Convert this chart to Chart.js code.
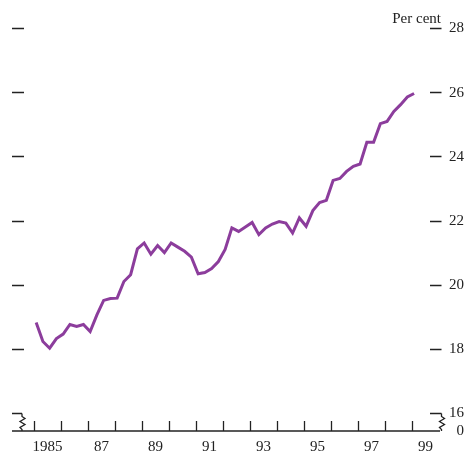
<!DOCTYPE html>
<html>
<head>
<meta charset="utf-8">
<script src="https://cdn.jsdelivr.net/npm/chart.js@4/dist/chart.umd.min.js"></script>
<style>
  body { margin: 0; background: #fff; }
  canvas { display: block; }
</style>
</head>
<body>
<canvas id="chart" width="467" height="452"></canvas>
<script>
// quarterly, 1985 Q1 .. 1999 Q1
const firstYear = 1985;
const shareValues = [
    18.82, 18.23, 18.02, 18.32, 18.46, 18.76, 18.70, 18.76,
    18.54, 19.06, 19.51, 19.57, 19.58, 20.10, 20.31, 21.12,
    21.30, 20.95, 21.22, 21.00, 21.30, 21.17, 21.04, 20.86,
    20.34, 20.38, 20.50, 20.72, 21.10, 21.77, 21.66, 21.80,
    21.94, 21.56, 21.77, 21.89, 21.97, 21.92, 21.61, 22.08,
    21.82, 22.31, 22.56, 22.63, 23.25, 23.31, 23.53, 23.69,
    23.76, 24.44, 24.44, 25.02, 25.09, 25.40, 25.61, 25.85,
    25.96
];
const yearTicks = [1985, 1986, 1987, 1988, 1989, 1990, 1991, 1992, 1993, 1994, 1995, 1996, 1997, 1998, 1999];
const yearLabels = ['1985', '87', '89', '91', '93', '95', '97', '99'];
const yearLabelYears = [1985, 1987, 1989, 1991, 1993, 1995, 1997, 1999];
const yTicks = [16, 18, 20, 22, 24, 26, 28];

const points = shareValues.map((v, i) => ({
    x: firstYear + Math.floor(i / 4) + (i % 4) / 4 + 0.08,
    y: v
}));

const FONT = '15px "Liberation Serif", "Times New Roman", serif';
const INK = '#222';

// axes are drawn by hand, positions come from chart scales
const axesPlugin = {
    id: 'rbaAxes',
    afterDraw: (chart) => {
        const ctx = chart.ctx;
        const xs = chart.scales.x;
        const ys = chart.scales.y;
        const base = ys.bottom;
        const left = xs.left;
        const right = xs.right;

        ctx.save();
        ctx.strokeStyle = INK;
        ctx.fillStyle = INK;
        ctx.lineWidth = 1.3;

        // bottom axis line
        ctx.beginPath();
        ctx.moveTo(left, base);
        ctx.lineTo(right, base);
        ctx.stroke();

        // year ticks, pointing up
        yearTicks.forEach((yr) => {
            const px = Math.round(xs.getPixelForValue(yr)) + 0.5;
            ctx.beginPath();
            ctx.moveTo(px, base - 10);
            ctx.lineTo(px, base);
            ctx.stroke();
        });

        // y ticks both sides
        yTicks.forEach((v) => {
            const py = Math.round(ys.getPixelForValue(v)) + 0.5;
            ctx.beginPath();
            if (v === yTicks[0]) {
                ctx.moveTo(left, py);
                ctx.lineTo(left + 10, py);
            } else {
                ctx.moveTo(left, py);
                ctx.lineTo(left + 12, py);
            }
            ctx.moveTo(right - 10, py);
            ctx.lineTo(right + 1.5, py);
            ctx.stroke();
        });

        // axis breaks
        const top16 = Math.round(ys.getPixelForValue(yTicks[0])) + 0.5;
        const zig = (bx) => {
            ctx.beginPath();
            ctx.moveTo(bx, top16);
            ctx.lineTo(bx, top16 + 3);
            ctx.lineTo(bx + 3, top16 + 5);
            ctx.lineTo(bx - 2, top16 + 8);
            ctx.lineTo(bx + 3, top16 + 11);
            ctx.lineTo(bx - 2, top16 + 14);
            ctx.lineTo(bx, top16 + 16);
            ctx.lineTo(bx, base);
            ctx.stroke();
        };
        zig(left + 10);
        zig(right + 1.5);

        // tick labels
        ctx.font = FONT;
        ctx.textAlign = 'right';
        ctx.textBaseline = 'middle';
        yTicks.forEach((v) => {
            ctx.fillText(String(v), 464, ys.getPixelForValue(v) + 0.5);
        });
        ctx.fillText('0', 464, base);
        ctx.fillText('Per cent', right + 1, 19);

        ctx.textAlign = 'center';
        ctx.textBaseline = 'alphabetic';
        yearLabels.forEach((lab, i) => {
            ctx.fillText(lab, xs.getPixelForValue(yearLabelYears[i] + 0.5), 451);
        });
        ctx.restore();
    }
};

new Chart(document.getElementById('chart').getContext('2d'), {
    type: 'line',
    data: {
        datasets: [{
            data: points,
            borderColor: '#8c3d9c',
            borderWidth: 3,
            pointRadius: 0,
            tension: 0,
            fill: false
        }]
    },
    options: {
        responsive: false,
        animation: false,
        devicePixelRatio: 1,
        layout: { padding: { left: 12, right: 27, top: 28, bottom: 21 } },
        plugins: { legend: { display: false }, tooltip: { enabled: false } },
        scales: {
            x: { type: 'linear', display: false, min: 1984.185, max: 2000.04 },
            y: { display: false, min: 15.44, max: 28 }
        }
    },
    plugins: [axesPlugin]
});
</script>
</body>
</html>
